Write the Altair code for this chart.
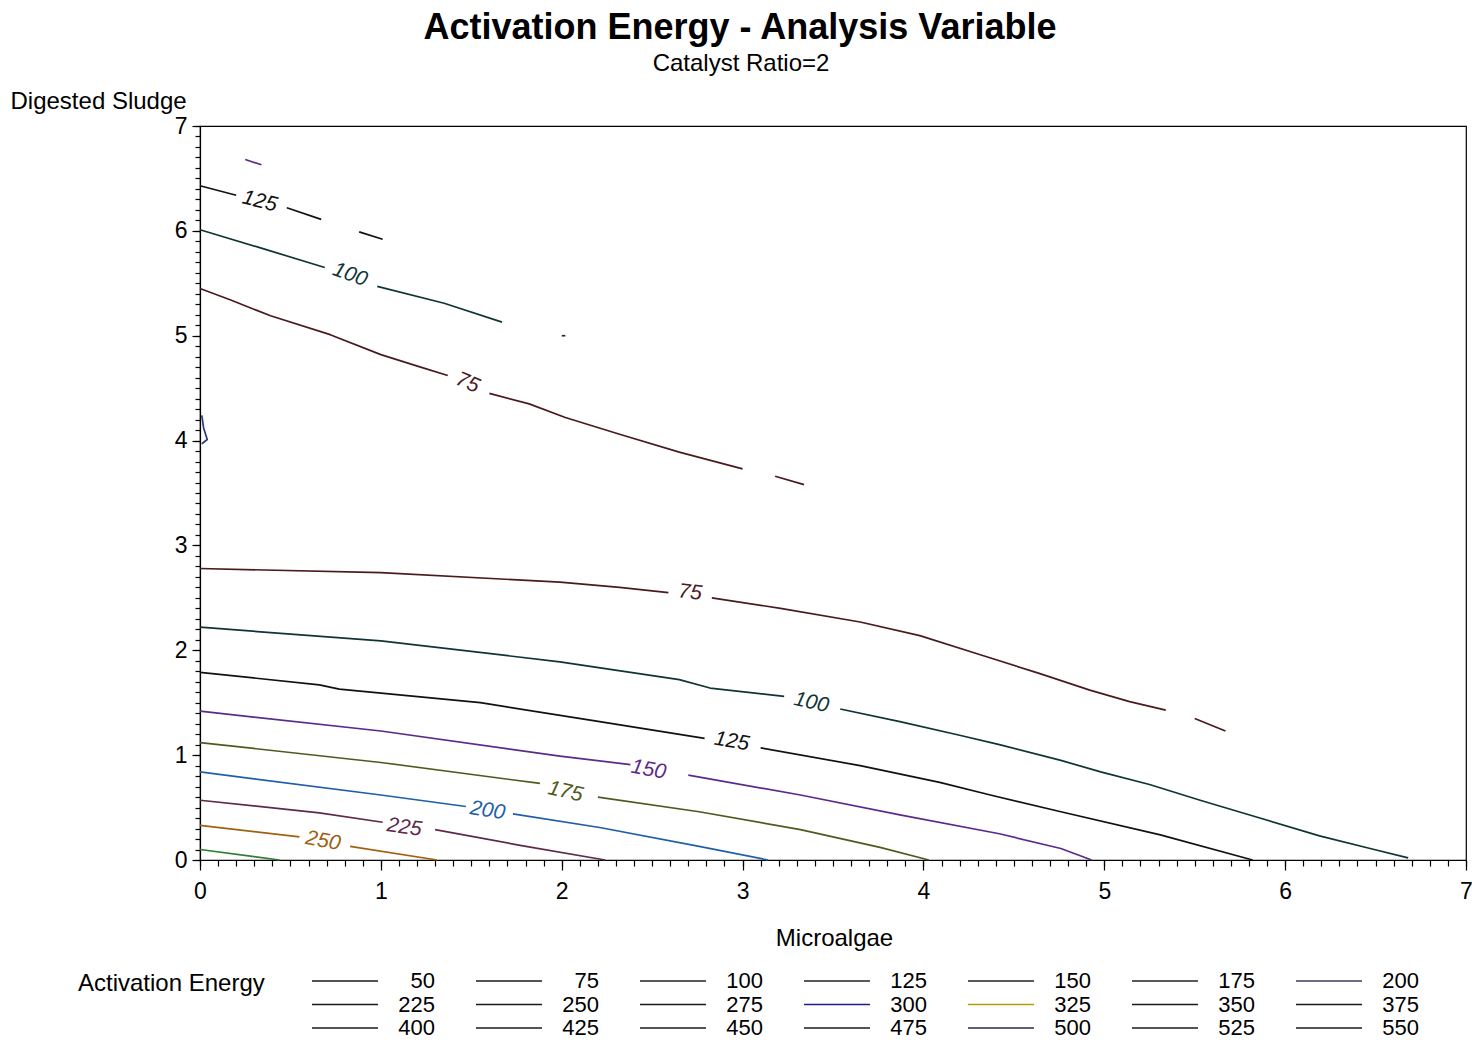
import math

import altair as alt
import pandas as pd

TITLE = "Activation Energy - Analysis Variable"
SUBTITLE = "Catalyst Ratio=2"
X_TITLE = "Microalgae"
Y_TITLE = "Digested Sludge"
LEGEND_TITLE = "Activation Energy"
FONT = "Liberation Sans"

# Contour pieces, as (Microalgae, Digested Sludge) points; gaps leave room for labels
c50 = [(0.01, 4.24), (0.02, 4.12), (0.04, 4.01), (0.01, 3.97)]
c75_upper_a = [(0.00, 5.45), (0.17, 5.34), (0.39, 5.19), (0.72, 5.01), (1.00, 4.82), (1.22, 4.70), (1.37, 4.62)]
c75_upper_b = [(1.60, 4.45), (1.82, 4.35), (2.02, 4.22), (2.32, 4.06), (2.65, 3.89), (3.00, 3.73)]
c75_upper_c = [(3.18, 3.66), (3.34, 3.58)]
c75_lower_a = [(0.00, 2.78), (1.00, 2.74), (1.99, 2.65), (2.32, 2.60), (2.59, 2.55)]
c75_lower_b = [(2.83, 2.50), (3.21, 2.40), (3.65, 2.27), (3.98, 2.14), (4.31, 1.96), (4.64, 1.78),
               (4.92, 1.62), (5.14, 1.51), (5.34, 1.43)]
c75_lower_c = [(5.50, 1.35), (5.67, 1.23)]
c100_upper_a = [(0.00, 6.01), (0.33, 5.84), (0.69, 5.65)]
c100_upper_b = [(0.98, 5.47), (1.35, 5.31), (1.67, 5.13)]
c100_upper_c = [(2.00, 5.00), (2.02, 5.00)]
c100_lower_a = [(0.00, 2.22), (1.00, 2.09), (1.99, 1.89), (2.65, 1.72), (2.82, 1.64), (3.23, 1.56)]
c100_lower_b = [(3.54, 1.44), (3.87, 1.32), (4.20, 1.19), (4.42, 1.10), (4.76, 0.95), (4.98, 0.84),
                (5.25, 0.72), (5.53, 0.57), (5.86, 0.40), (6.19, 0.23), (6.47, 0.11), (6.68, 0.02)]
c125_upper_a = [(0.00, 6.43), (0.20, 6.34)]
c125_upper_b = [(0.48, 6.22), (0.67, 6.11)]
c125_upper_c = [(0.88, 5.99), (1.01, 5.92)]
c125_lower_a = [(0.00, 1.79), (0.66, 1.67), (0.77, 1.63), (1.55, 1.50), (2.21, 1.32), (2.79, 1.16)]
c125_lower_b = [(3.10, 1.07), (3.65, 0.90), (4.09, 0.74), (4.37, 0.62), (4.76, 0.46), (5.31, 0.24), (5.82, 0.00)]
c150_upper = [(0.25, 6.68), (0.34, 6.63)]
c150_lower_a = [(0.00, 1.42), (1.00, 1.23), (1.99, 0.99), (2.38, 0.91)]
c150_lower_b = [(2.70, 0.81), (3.32, 0.62), (3.87, 0.43), (4.42, 0.25), (4.76, 0.11), (4.93, 0.00)]
c175_a = [(0.00, 1.12), (1.00, 0.93), (1.88, 0.73)]
c175_b = [(2.20, 0.60), (2.76, 0.46), (3.32, 0.29), (3.76, 0.12), (4.03, 0.00)]
c200_a = [(0.00, 0.84), (1.00, 0.62), (1.47, 0.51)]
c200_b = [(1.73, 0.44), (2.21, 0.31), (2.76, 0.13), (3.14, 0.00)]
c225_a = [(0.00, 0.57), (0.66, 0.45), (1.01, 0.36)]
c225_b = [(1.30, 0.29), (1.77, 0.14), (2.24, 0.00)]
c250_a = [(0.00, 0.33), (0.55, 0.22)]
c250_b = [(0.83, 0.13), (1.31, 0.00)]
c275 = [(0.00, 0.10), (0.44, 0.00)]

contour_pieces = [
    (50, c50),
    (75, c75_upper_a), (75, c75_upper_b), (75, c75_upper_c),
    (75, c75_lower_a), (75, c75_lower_b), (75, c75_lower_c),
    (100, c100_upper_a), (100, c100_upper_b), (100, c100_upper_c),
    (100, c100_lower_a), (100, c100_lower_b),
    (125, c125_upper_a), (125, c125_upper_b), (125, c125_upper_c),
    (125, c125_lower_a), (125, c125_lower_b),
    (150, c150_upper), (150, c150_lower_a), (150, c150_lower_b),
    (175, c175_a), (175, c175_b),
    (200, c200_a), (200, c200_b),
    (225, c225_a), (225, c225_b),
    (250, c250_a), (250, c250_b),
    (275, c275),
]

# Contour labels
label_levels = [125, 100, 75, 75, 100, 125, 150, 175, 200, 225, 250]
label_x = [0.33, 0.83, 1.48, 2.71, 3.38, 2.94, 2.48, 2.02, 1.59, 1.13, 0.68]
label_y = [6.28, 5.58, 4.55, 2.55, 1.50, 1.13, 0.86, 0.65, 0.47, 0.31, 0.18]

# Line colour of each contour level
line_levels = [50, 75, 100, 125, 150, 175, 200, 225, 250, 275]
line_colors = ["#2b3a80", "#4a1a1e", "#0f3434", "#111111", "#5b2a8c",
               "#4f5a1e", "#1f5fa8", "#5e2a4a", "#a0600f", "#2e7d32"]

# Legend entries
legend_levels = [50, 75, 100, 125, 150, 175, 200,
                 225, 250, 275, 300, 325, 350, 375,
                 400, 425, 450, 475, 500, 525, 550]
legend_colors = ["#1a1a1a", "#1a1a1a", "#222222", "#222222", "#222222", "#222222", "#3c3c5c",
                 "#1a1a1a", "#1a1a1a", "#1a1a1a", "#1e1e8c", "#b89a10", "#1a1a1a", "#1a1a1a",
                 "#1a1a1a", "#1a1a1a", "#1a1a1a", "#1a1a1a", "#2a2a4a", "#1a1a1a", "#1a1a1a"]

W, H = 1266, 734
X_MAX, Y_MAX = 7, 7

# ---- tables -------------------------------------------------------------
rows = []
for pid, (lvl, pts) in enumerate(contour_pieces):
    for k, (x, y) in enumerate(pts):
        rows.append({"piece": pid, "order": k, "level": str(lvl), "x": x, "y": y})
lines_df = pd.DataFrame(rows)


def to_px(x, y):
    return x / X_MAX * W, (Y_MAX - y) / Y_MAX * H


label_rows = []
for lvl, lx, ly in zip(label_levels, label_x, label_y):
    lpx, lpy = to_px(lx, ly)
    pts = [to_px(x, y) for l, p in contour_pieces if l == lvl for (x, y) in p]
    left = min((p for p in pts if p[0] < lpx), key=lambda p: math.hypot(p[0] - lpx, p[1] - lpy))
    right = min((p for p in pts if p[0] > lpx), key=lambda p: math.hypot(p[0] - lpx, p[1] - lpy))
    ang = math.degrees(math.atan2(right[1] - left[1], right[0] - left[0])) % 360
    label_rows.append({"level": str(lvl), "text": str(lvl), "x": lx, "y": ly, "angle": ang})
labels_df = pd.DataFrame(label_rows)

leg_rows = []
for i, (lvl, col) in enumerate(zip(legend_levels, legend_colors)):
    c, r = i % 7, i // 7
    leg_rows.append({
        "text": str(lvl), "color": col,
        "x0": 112 + 164 * c, "x1": 178 + 164 * c, "xt": 235 + 164 * c,
        "py": 855 + 23.5 * r,
    })
legend_df = pd.DataFrame(leg_rows)

# ---- scales and axes ------------------------------------------------------
xs = alt.Scale(domain=[0, X_MAX], nice=False, zero=False)
ys = alt.Scale(domain=[0, Y_MAX], nice=False, zero=False)
color_scale = alt.Scale(domain=[str(v) for v in line_levels], range=line_colors)

major_x = alt.Axis(
    orient="bottom", values=list(range(0, X_MAX + 1)), tickSize=10, tickWidth=1.2, tickColor="black",
    domainColor="black", domainWidth=1.2, grid=False, labelFlush=False, labelOverlap=False,
    labelFont=FONT, labelFontSize=23, labelColor="black", labelPadding=10,
    title=X_TITLE, titleFont=FONT, titleFontSize=24, titleFontWeight="normal", titleColor="black",
    titleX=634, titleY=85, titleBaseline="alphabetic", titleAlign="center",
)
major_y = alt.Axis(
    orient="left", values=list(range(0, Y_MAX + 1)), tickSize=8, tickWidth=1.2, tickColor="black",
    domainColor="black", domainWidth=1.2, grid=False, labelFlush=False, labelOverlap=False,
    labelFont=FONT, labelFontSize=23, labelColor="black", labelPadding=5,
    title=Y_TITLE, titleFont=FONT, titleFontSize=24, titleFontWeight="normal", titleColor="black",
    titleAngle=0, titleX=-190, titleY=-18, titleAlign="left", titleBaseline="alphabetic",
)
minor_x = alt.Axis(orient="bottom", values=[i / 10 for i in range(0, 71)], tickSize=6, tickWidth=1.2,
                   tickColor="black", labels=False, domain=False, grid=False, title=None)
minor_y = alt.Axis(orient="left", values=[i / 10 for i in range(0, 71)], tickSize=5, tickWidth=1.2,
                   tickColor="black", labels=False, domain=False, grid=False, title=None)

# ---- layers ---------------------------------------------------------------
contours = alt.Chart(lines_df).mark_line(strokeWidth=1.7, strokeCap="butt", strokeJoin="round").encode(
    x=alt.X("x:Q", scale=xs, axis=major_x),
    y=alt.Y("y:Q", scale=ys, axis=major_y),
    detail="piece:N",
    order="order:Q",
    color=alt.Color("level:N", scale=color_scale, legend=None),
)

minor_ticks = alt.Chart(lines_df).mark_point(opacity=0).encode(
    x=alt.X("x:Q", scale=xs, axis=minor_x),
    y=alt.Y("y:Q", scale=ys, axis=minor_y),
)

contour_labels = alt.Chart(labels_df).mark_text(
    font=FONT, fontSize=21, fontStyle="italic", align="center", baseline="middle"
).encode(
    x=alt.X("x:Q", scale=xs, axis=None),
    y=alt.Y("y:Q", scale=ys, axis=None),
    text="text:N",
    angle=alt.Angle("angle:Q", scale=None),
    color=alt.Color("level:N", scale=color_scale, legend=None),
)

legend_lines = alt.Chart(legend_df).mark_rule(strokeWidth=1.5).encode(
    x=alt.X("x0:Q", scale=None, axis=None),
    x2="x1:Q",
    y=alt.Y("py:Q", scale=None, axis=None),
    color=alt.Color("color:N", scale=None),
)

legend_text = alt.Chart(legend_df).mark_text(
    font=FONT, fontSize=22, align="right", baseline="middle", color="black"
).encode(
    x=alt.X("xt:Q", scale=None, axis=None),
    y=alt.Y("py:Q", scale=None, axis=None),
    text="text:N",
)

legend_title = alt.Chart(pd.DataFrame({"t": [LEGEND_TITLE]})).mark_text(
    font=FONT, fontSize=24, align="left", baseline="middle", color="black"
).encode(text="t:N", x=alt.value(-122), y=alt.value(858))

title = alt.Chart(pd.DataFrame({"t": [TITLE]})).mark_text(
    font=FONT, fontSize=36, fontWeight="bold", align="center", baseline="alphabetic", color="black"
).encode(text="t:N", x=alt.value(540), y=alt.value(-87))

subtitle = alt.Chart(pd.DataFrame({"t": [SUBTITLE]})).mark_text(
    font=FONT, fontSize=24, align="center", baseline="alphabetic", color="black"
).encode(text="t:N", x=alt.value(541), y=alt.value(-55))

chart = (
    alt.layer(contours, minor_ticks, contour_labels, legend_lines, legend_text,
              legend_title, title, subtitle)
    .resolve_axis(x="independent", y="independent")
    .properties(
        width=W, height=H,
        autosize=alt.AutoSizeParams(type="none"),
        padding={"left": 200, "top": 126, "right": 6, "bottom": 180},
        background="white",
    )
    .configure_view(stroke="black", strokeWidth=1.2)
)

chart.save("out.html", embed_options={"renderer": "svg", "actions": False})
